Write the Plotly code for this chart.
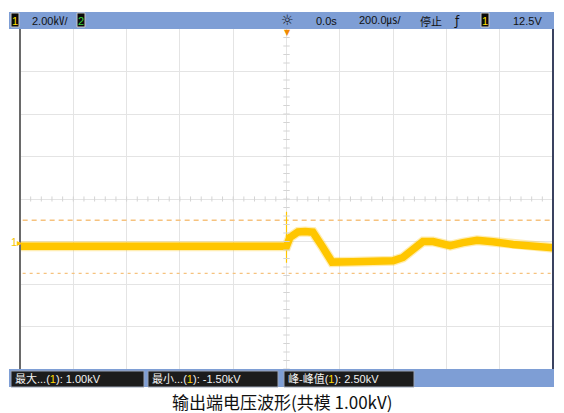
import plotly.graph_objects as go

# Oscilloscope capture: channel 1, 2.00 kV/div, 200 us/div, stopped
t_us = [-1000, -500, 0, 13, 43, 70, 99, 135, 171, 250, 330, 400, 437, 475,
        512, 550, 614, 662, 715, 775, 850, 1000]
v_kv = [-0.22, -0.22, -0.22, 0.19, 0.45, 0.47, 0.44, -0.25, -0.97, -0.95,
        -0.93, -0.91, -0.75, -0.38, 0.0, 0.0, -0.19, -0.05, 0.06, -0.01,
        -0.14, -0.30]

# trigger-edge transient at t = 0
spike_t = [0, 0]
spike_v = [1.4, -1.0]

# measurement cursors
v_max = 1.00
v_min = -1.50
v_pp = v_max - v_min

x_range = [-1000, 1000]
y_range = [-6, 10]
x_div = 200
y_div = 2

W, H = 564, 413
L, R, T, B = 20, 553, 29, 369


def px(x):
    return (x - L) / (R - L)


def py(y):
    return (B - y) / (B - T)


TRACE = "#FFC600"
BAR = "#7E9ED5"

fig = go.Figure()

# measurement level lines
fig.add_trace(go.Scatter(x=[x_range[0] + 10, x_range[1]], y=[v_max, v_max], mode="lines",
                         line=dict(color="#F6C27E", width=1.3, dash="5px,4px"),
                         hoverinfo="skip"))
fig.add_trace(go.Scatter(x=[x_range[0] + 10, x_range[1]], y=[v_min, v_min], mode="lines",
                         line=dict(color="#F6C27E", width=1.3, dash="3px,4px"),
                         hoverinfo="skip"))

# waveform: soft halo + core band
fig.add_trace(go.Scatter(x=t_us, y=v_kv, mode="lines",
                         line=dict(color=TRACE, width=10),
                         opacity=0.3, hoverinfo="skip"))
fig.add_trace(go.Scatter(x=t_us, y=v_kv, mode="lines",
                         line=dict(color=TRACE, width=7.5),
                         hoverinfo="skip"))
fig.add_trace(go.Scatter(x=spike_t, y=spike_v, mode="lines",
                         line=dict(color=TRACE, width=1.2), hoverinfo="skip"))

shapes = []
# minor ticks on the centre cross
xc = (x_range[0] + x_range[1]) / 2
yc = (y_range[0] + y_range[1]) / 2
k = x_range[0]
while k <= x_range[1]:
    shapes.append(dict(type="line", xref="x", yref="y", x0=k, x1=k,
                       y0=yc - 0.12, y1=yc + 0.12,
                       line=dict(color="#d4d4d4", width=1)))
    k += x_div / 5
k = y_range[0]
while k <= y_range[1]:
    shapes.append(dict(type="line", xref="x", yref="y", y0=k, y1=k,
                       x0=xc - 12, x1=xc + 12,
                       line=dict(color="#d4d4d4", width=1)))
    k += y_div / 5

# screen borders
shapes.append(dict(type="line", xref="paper", yref="paper", x0=0, x1=0, y0=0, y1=1,
                   line=dict(color="#6a6a6a", width=2)))
shapes.append(dict(type="line", xref="paper", yref="paper", x0=1, x1=1, y0=0, y1=1,
                   line=dict(color="#3a4260", width=2)))
# status bars
shapes.append(dict(type="rect", xref="paper", yref="paper", x0=px(9), x1=px(554),
                   y0=py(29), y1=py(12), fillcolor=BAR, line=dict(width=0), layer="above"))
shapes.append(dict(type="rect", xref="paper", yref="paper", x0=px(9), x1=px(554),
                   y0=py(387), y1=py(369), fillcolor=BAR, line=dict(width=0), layer="above"))
# measurement boxes in the lower bar
for x0, x1 in [(11, 144), (148, 278), (284, 414)]:
    shapes.append(dict(type="rect", xref="paper", yref="paper", x0=px(x0), x1=px(x1),
                       y0=py(387), y1=py(371), fillcolor="#1c1c1c",
                       line=dict(color="#9aa3b5", width=1), layer="above"))
# channel badges in the upper bar
for x0, x1 in [(11, 19), (77, 85), (481, 489)]:
    shapes.append(dict(type="rect", xref="paper", yref="paper", x0=px(x0), x1=px(x1),
                       y0=py(27), y1=py(13), fillcolor="#0a0a0a",
                       line=dict(color="#c8c8c8", width=1), layer="above"))

FONT = "Liberation Sans, Noto Sans CJK SC, sans-serif"
ann = []


def text(x, y, s, size=11, color="#111", xanchor="left", font=FONT):
    ann.append(dict(xref="paper", yref="paper", x=px(x), y=py(y), text=s,
                    showarrow=False, xanchor=xanchor, yanchor="middle",
                    font=dict(family=font, size=size, color=color)))


text(15, 20.5, "1", size=11, color="#FFE000", xanchor="center")
text(81, 20.5, "2", size=11, color="#3BD43B", xanchor="center")
text(485, 20.5, "1", size=11, color="#FFE000", xanchor="center")
text(30, 20.5, f"{y_div:.2f}㎸/")
text(287, 20, "☼", size=14, xanchor="center", font="DejaVu Sans")
text(314, 20.5, "0.0s")
text(357, 20.5, f"{x_div:.1f}㎲/")
text(418, 20.5, "停止", font="Noto Sans CJK SC")
text(457, 20.5, "ƒ", size=12, xanchor="center", font="DejaVu Sans")
text(511, 20.5, "12.5V")

Y1 = "<span style='color:#FFD800'>1</span>"
text(13, 379, f"最大...({Y1}): {v_max:.2f}kV", color="#f2f2f2")
text(150, 379, f"最小...({Y1}): {v_min:.2f}kV", color="#f2f2f2")
text(286, 379, f"峰-峰值({Y1}): {v_pp:.2f}kV", color="#f2f2f2")

# trigger position marker and channel ground marker
text(287, 33, "▼", size=8, color="#F08A00", xanchor="center", font="DejaVu Sans")
text(14, 242, "1", size=11, color="#F5C400", xanchor="center")
text(19, 242, "▸", size=10, color="#FFC600", xanchor="center", font="DejaVu Sans")

# caption
ann.append(dict(xref="paper", yref="paper", x=px(282), y=py(401),
                text="输出端电压波形(共模 1.00kV)", showarrow=False,
                xanchor="center", yanchor="middle",
                font=dict(family="Noto Sans CJK SC", size=17, color="#111")))

fig.update_layout(
    width=W, height=H,
    margin=dict(l=L, r=W - R, t=T, b=H - B),
    paper_bgcolor="white", plot_bgcolor="white",
    showlegend=False,
    shapes=shapes, annotations=ann,
    xaxis=dict(range=x_range, dtick=x_div, tick0=x_range[0], showticklabels=False,
               showgrid=True, gridcolor="#e4e4e4", gridwidth=1, zeroline=False,
               ticks="", fixedrange=True),
    yaxis=dict(range=y_range, dtick=y_div, tick0=y_range[0], showticklabels=False,
               showgrid=True, gridcolor="#e4e4e4", gridwidth=1, zeroline=False,
               ticks="", fixedrange=True),
)

fig.write_html("out.html")
